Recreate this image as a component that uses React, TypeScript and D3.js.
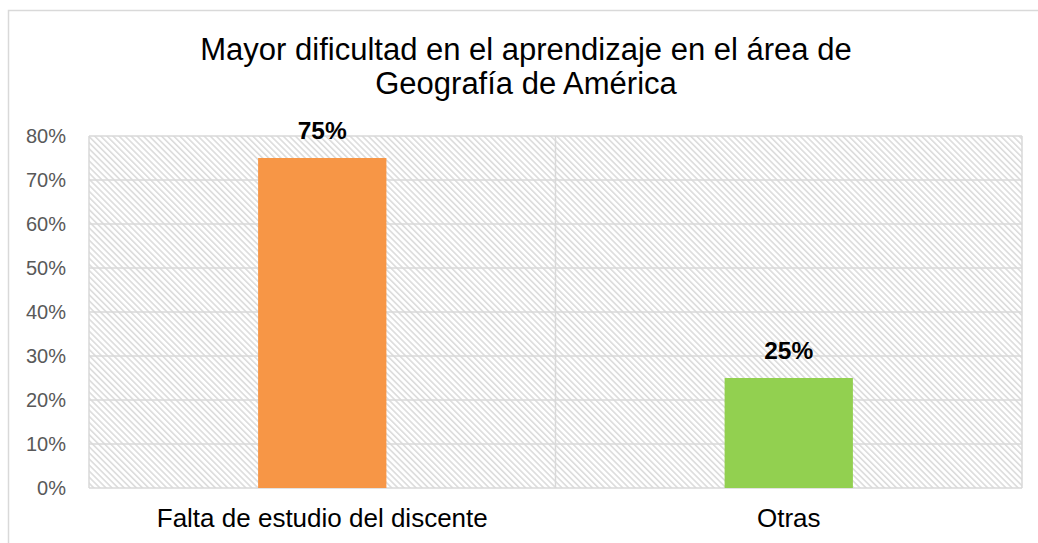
import React, { useEffect, useRef } from 'react';
import * as d3 from 'd3';

const categories = ['Falta de estudio del discente', 'Otras'];
const values = [0.75, 0.25];
const barColors = ['#F79646', '#92D050'];
const yTicks = [0, 0.1, 0.2, 0.3, 0.4, 0.5, 0.6, 0.7, 0.8];
const titleLines = ['Mayor dificultad en el aprendizaje en el área de', 'Geografía de América'];

const App = () => {
  const ref = useRef<SVGSVGElement>(null);

  useEffect(() => {
    const width = 1038;
    const height = 543;
    const plot = { left: 89, top: 136, right: 1022, bottom: 488 };
    const font = 'Liberation Sans, Arial, sans-serif';

    const svg = d3.select(ref.current);
    svg.selectAll('*').remove();
    svg.attr('width', width).attr('height', height);

    const defs = svg.append('defs');
    const pat = defs
      .append('pattern')
      .attr('id', 'hatch')
      .attr('patternUnits', 'userSpaceOnUse')
      .attr('width', 4.3)
      .attr('height', 4.3)
      .attr('patternTransform', 'rotate(-45)');
    pat.append('rect').attr('width', 4.3).attr('height', 4.3).attr('fill', '#fff');
    pat.append('rect').attr('x', 0).attr('width', 1.6).attr('height', 4.3).attr('fill', '#dcdcdc');

    svg.append('rect').attr('width', width).attr('height', height).attr('fill', '#fff');

    // chart border
    svg
      .append('rect')
      .attr('x', 8.5)
      .attr('y', 10.5)
      .attr('width', 1060)
      .attr('height', 560)
      .attr('fill', 'none')
      .attr('stroke', '#d9d9d9')
      .attr('stroke-width', 1.5);

    const x = d3.scaleBand().domain(categories).range([plot.left, plot.right]).padding(0);
    const y = d3.scaleLinear().domain([0, 0.8]).range([plot.bottom, plot.top]);

    svg
      .append('rect')
      .attr('x', plot.left)
      .attr('y', plot.top)
      .attr('width', plot.right - plot.left)
      .attr('height', plot.bottom - plot.top)
      .attr('fill', 'url(#hatch)');

    const g = svg.append('g');

    g.selectAll('line.grid')
      .data(yTicks)
      .enter()
      .append('line')
      .attr('class', 'grid')
      .attr('x1', plot.left)
      .attr('x2', plot.right)
      .attr('y1', (d) => y(d))
      .attr('y2', (d) => y(d))
      .attr('stroke', '#d9d9d9')
      .attr('stroke-width', 1.5);

    // vertical gridlines at category boundaries
    const vlines = [...categories.map((c) => x(c) as number), plot.right];
    g.selectAll('line.vgrid')
      .data(vlines)
      .enter()
      .append('line')
      .attr('class', 'vgrid')
      .attr('x1', (d) => d)
      .attr('x2', (d) => d)
      .attr('y1', plot.top)
      .attr('y2', plot.bottom)
      .attr('stroke', '#d9d9d9')
      .attr('stroke-width', 1.5);

    const bw = x.bandwidth() * 0.275;
    g.selectAll('rect.bar')
      .data(values)
      .enter()
      .append('rect')
      .attr('class', 'bar')
      .attr('x', (d, i) => (x(categories[i]) as number) + x.bandwidth() / 2 - bw / 2)
      .attr('y', (d) => y(d))
      .attr('width', bw)
      .attr('height', (d) => plot.bottom - y(d))
      .attr('fill', (d, i) => barColors[i]);

    g.selectAll('text.lbl')
      .data(values)
      .enter()
      .append('text')
      .attr('class', 'lbl')
      .attr('x', (d, i) => (x(categories[i]) as number) + x.bandwidth() / 2)
      .attr('y', (d) => y(d) - 19)
      .attr('text-anchor', 'middle')
      .attr('font-family', font)
      .attr('font-weight', 'bold')
      .attr('font-size', 24.5)
      .attr('fill', '#000')
      .text((d) => d3.format('.0%')(d));

    // y tick labels
    g.selectAll('text.ytick')
      .data(yTicks)
      .enter()
      .append('text')
      .attr('class', 'ytick')
      .attr('x', 66)
      .attr('y', (d) => y(d))
      .attr('dy', '0.35em')
      .attr('text-anchor', 'end')
      .attr('font-family', font)
      .attr('font-size', 20)
      .attr('fill', '#595959')
      .text((d) => d3.format('.0%')(d));

    // category labels
    g.selectAll('text.cat')
      .data(categories)
      .enter()
      .append('text')
      .attr('class', 'cat')
      .attr('x', (d) => (x(d) as number) + x.bandwidth() / 2)
      .attr('y', 527)
      .attr('text-anchor', 'middle')
      .attr('font-family', font)
      .attr('font-size', 26)
      .attr('fill', '#000')
      .text((d) => d);

    svg
      .append('g')
      .selectAll('text')
      .data(titleLines)
      .enter()
      .append('text')
      .attr('x', 526)
      .attr('y', (d, i) => 60 + i * 34)
      .attr('text-anchor', 'middle')
      .attr('font-family', font)
      .attr('font-size', 31)
      .attr('fill', '#000')
      .text((d) => d);
  }, []);

  return (
    <div style={{ position: 'absolute', left: 0, top: 0 }}>
      <svg ref={ref} style={{ display: 'block' }}></svg>
    </div>
  );
};

export default App;
